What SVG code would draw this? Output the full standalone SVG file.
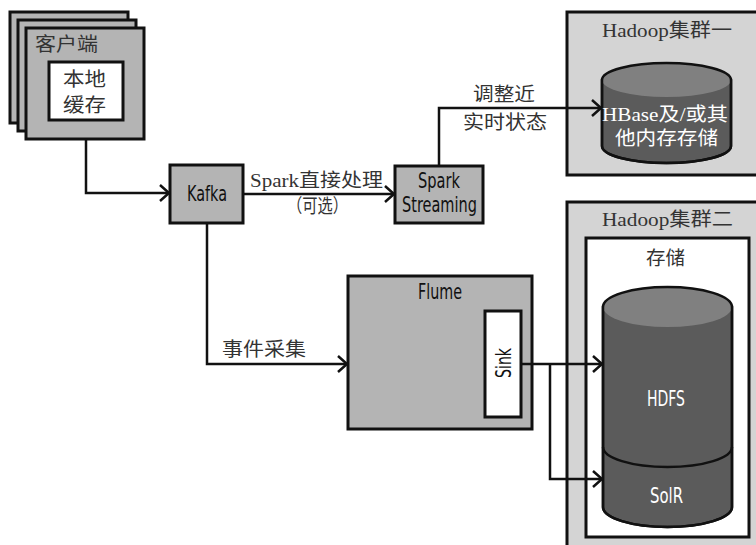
<svg xmlns="http://www.w3.org/2000/svg" width="756" height="545" viewBox="0 0 756 545">
<defs>
<style>
.box{fill:#b4b4b4;stroke:#111;stroke-width:3}
.wbox{fill:#fff;stroke:#111;stroke-width:3}
.cl{fill:#d4d4d4;stroke:#111;stroke-width:3}
.cyl{fill:#5b5b5b;stroke:#111;stroke-width:2.5}
.ctop{fill:#808080}
.ser{font-family:"Liberation Serif","Noto Sans CJK SC",serif;font-size:19px;fill:#333}
.cond{font-family:"DejaVu Sans Condensed","DejaVu Sans","Liberation Sans",sans-serif;font-stretch:condensed;font-size:21px;fill:#111}
.wt{fill:#fff}
.ln{fill:none;stroke:#111;stroke-width:2.5}
</style>
<marker id="ah" markerUnits="userSpaceOnUse" markerWidth="14" markerHeight="18" viewBox="0 0 14 18" refX="11" refY="9" orient="auto">
<path d="M2,1 L11,9 L2,17" fill="none" stroke="#111" stroke-width="2.5"/>
</marker>
</defs>
<rect width="756" height="545" fill="#fff"/>

<g id="client">
<rect class="box" x="10" y="12" width="118" height="111"/>
<rect class="box" x="18" y="20" width="118" height="111"/>
<rect class="box" x="26" y="28" width="118" height="111"/>
<text class="ser" x="35" y="51" textLength="63" lengthAdjust="spacingAndGlyphs">客户端</text>
<rect class="wbox" x="49" y="62" width="74" height="58"/>
<text class="ser" x="63" y="86" textLength="43" lengthAdjust="spacingAndGlyphs">本地</text>
<text class="ser" x="63" y="112" textLength="43" lengthAdjust="spacingAndGlyphs">缓存</text>
</g>

<g id="kafka">
<rect class="box" x="170" y="165" width="73" height="58"/>
<text class="cond" x="187" y="201" textLength="40" lengthAdjust="spacingAndGlyphs">Kafka</text>
</g>

<g id="spark">
<rect class="box" x="395" y="166" width="88" height="57"/>
<text class="cond" x="418" y="188" textLength="42" lengthAdjust="spacingAndGlyphs">Spark</text>
<text class="cond" x="402" y="212" textLength="75" lengthAdjust="spacingAndGlyphs">Streaming</text>
</g>

<g id="cluster1">
<rect class="cl" x="567" y="12" width="195" height="163"/>
<text class="ser" x="602" y="37" textLength="130" lengthAdjust="spacingAndGlyphs">Hadoop集群一</text>
<path class="cyl" d="M602,80 L602,146 A64.5,17 0 0 0 731,146 L731,80 Z"/>
<ellipse class="ctop" cx="666.5" cy="80" rx="64.5" ry="17"/>
<path d="M602,80 L602,146 A64.5,17 0 0 0 731,146 L731,80 A64.5,17 0 0 0 602,80 Z" fill="none" stroke="#111" stroke-width="2.5"/>
<text class="ser wt" x="602" y="121" textLength="126" lengthAdjust="spacingAndGlyphs">HBase及/或其</text>
<text class="ser wt" x="615" y="145" textLength="103" lengthAdjust="spacingAndGlyphs">他内存存储</text>
</g>

<g id="flume">
<rect class="box" x="348" y="276" width="184" height="153"/>
<text class="cond" x="418" y="299" textLength="44" lengthAdjust="spacingAndGlyphs">Flume</text>
</g>

<g id="sink">
<rect class="wbox" x="485" y="311" width="36" height="106"/>
<text class="cond" transform="translate(511,378) rotate(-90)" x="0" y="0" textLength="30" lengthAdjust="spacingAndGlyphs">Sink</text>
</g>

<g id="cluster2">
<rect class="cl" x="567" y="202" width="195" height="360"/>
<text class="ser" x="602" y="226" textLength="131" lengthAdjust="spacingAndGlyphs">Hadoop集群二</text>
<rect class="wbox" x="586" y="238" width="163" height="299"/>
<text class="ser" x="646" y="265" textLength="39" lengthAdjust="spacingAndGlyphs">存储</text>
<path class="cyl" d="M603,307 L603,507 A64.5,20 0 0 0 732,507 L732,307 Z"/>
<ellipse class="ctop" cx="667.5" cy="307" rx="64.5" ry="20"/>
<path d="M603,307 L603,507 A64.5,20 0 0 0 732,507 L732,307 A64.5,20 0 0 0 603,307 Z" fill="none" stroke="#111" stroke-width="2.5"/>
<path d="M603,447 A64.5,20 0 0 0 732,447" fill="none" stroke="#111" stroke-width="2.5"/>
<text class="cond wt" x="647" y="406" textLength="38" lengthAdjust="spacingAndGlyphs">HDFS</text>
<text class="cond wt" x="650" y="503" textLength="33" lengthAdjust="spacingAndGlyphs">SolR</text>
</g>

<g id="connectors">
<path class="ln" d="M86,139 L86,193 L169,193" marker-end="url(#ah)"/>
<path class="ln" d="M243,194 L394,194" marker-end="url(#ah)"/>
<path class="ln" d="M439,166 L439,108 L601,108" marker-end="url(#ah)"/>
<path class="ln" d="M207,223 L207,364 L347,364" marker-end="url(#ah)"/>
<path class="ln" d="M521,364 L602,364" marker-end="url(#ah)"/>
<path class="ln" d="M550,364 L550,479 L602,479" marker-end="url(#ah)"/>
<text class="ser" x="250" y="187" textLength="133" lengthAdjust="spacingAndGlyphs">Spark直接处理</text>
<text class="ser" x="287" y="213" textLength="61" lengthAdjust="spacingAndGlyphs">（可选）</text>
<text class="ser" x="473" y="101" textLength="62" lengthAdjust="spacingAndGlyphs">调整近</text>
<text class="ser" x="463" y="129" textLength="84" lengthAdjust="spacingAndGlyphs">实时状态</text>
<text class="ser" x="222" y="356" textLength="84" lengthAdjust="spacingAndGlyphs">事件采集</text>
</g>
</svg>
